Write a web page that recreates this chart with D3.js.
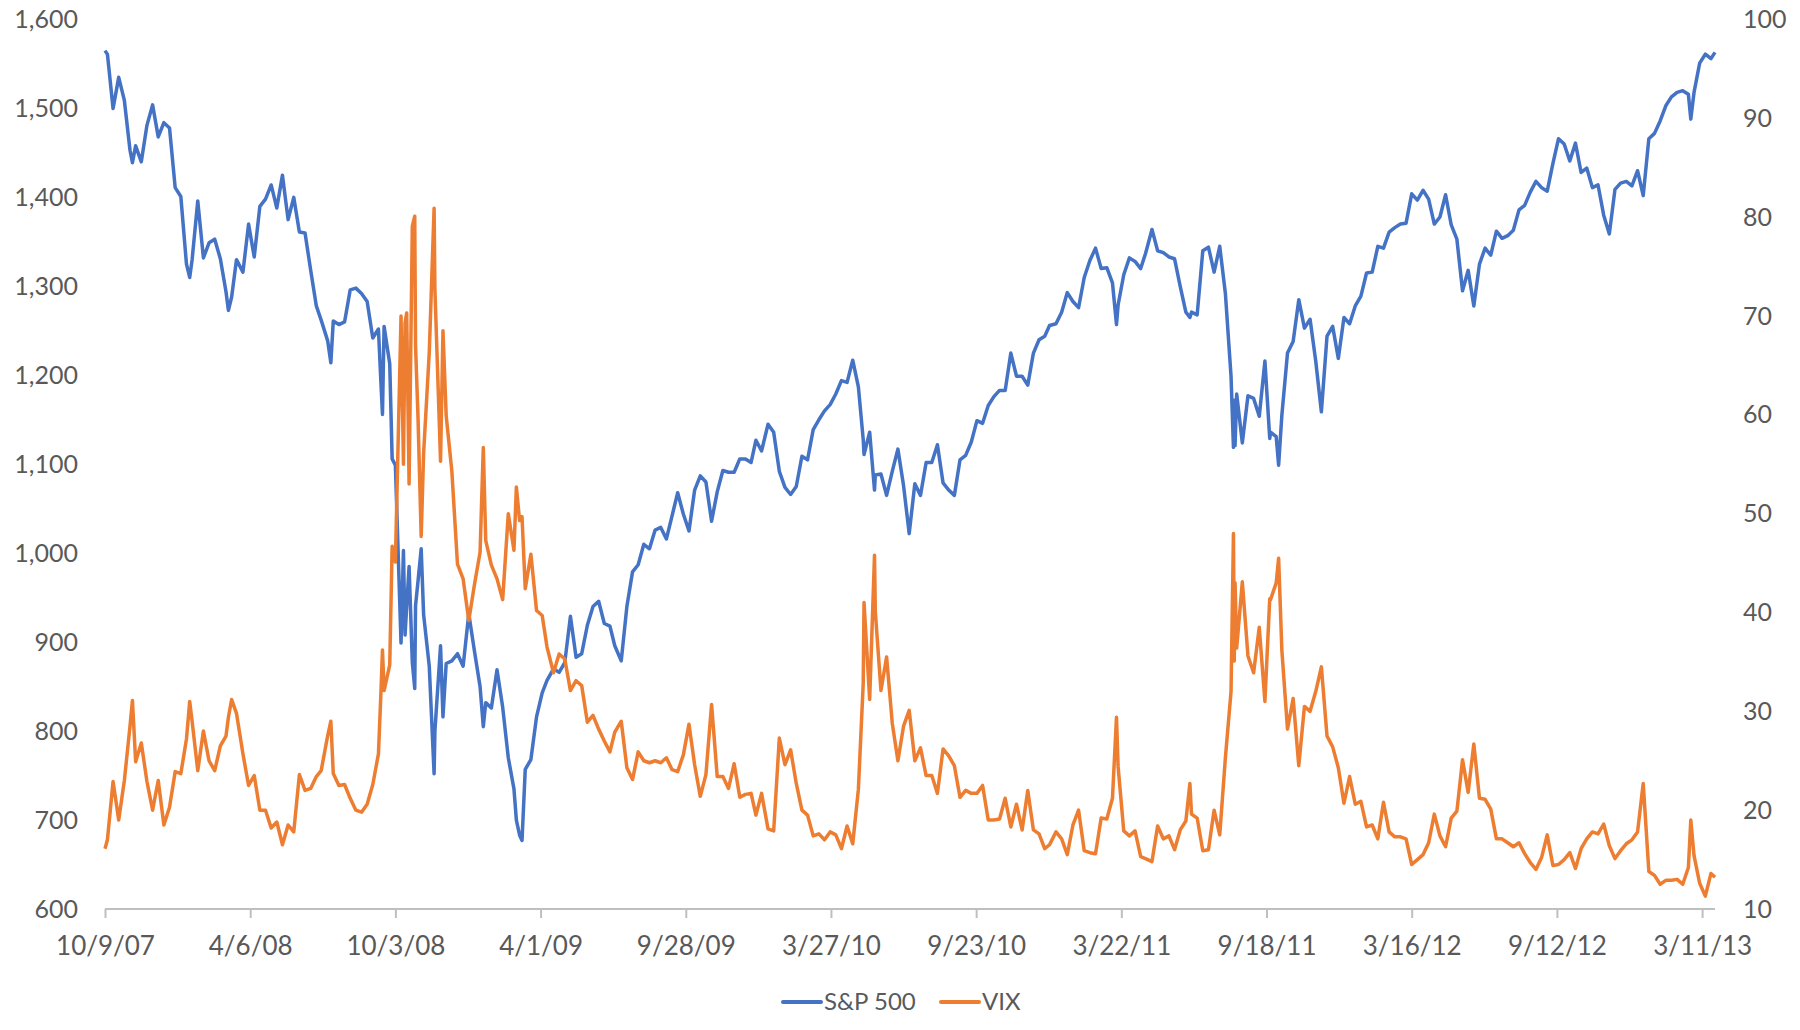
<!DOCTYPE html>
<html><head><meta charset="utf-8">
<script src="https://cdn.jsdelivr.net/npm/d3@7"></script>
<style>
html,body{margin:0;padding:0;background:#fff;}
svg text{font-family:Lato,"Noto Sans",sans-serif;fill:#595959;}
</style></head>
<body>
<svg id="chart" width="1800" height="1030"></svg>
<script>
// ---- DATA ----
const dates = ["07-10-09","07-10-12","07-10-19","07-10-26","07-11-02","07-11-09","07-11-12","07-11-16","07-11-23","07-11-30","07-12-07","07-12-14","07-12-21","07-12-28",
"08-01-04","08-01-11","08-01-18","08-01-22","08-01-25","08-02-01","08-02-08","08-02-15","08-02-22","08-02-29","08-03-07","08-03-10","08-03-14","08-03-20","08-03-28",
"08-04-04","08-04-11","08-04-18","08-04-25","08-05-02","08-05-09","08-05-16","08-05-23","08-05-30","08-06-06","08-06-13","08-06-20","08-06-27",
"08-07-03","08-07-11","08-07-15","08-07-18","08-07-25","08-08-01","08-08-08","08-08-15","08-08-22","08-08-29","08-09-05","08-09-12","08-09-15","08-09-17","08-09-19","08-09-26","08-09-29",
"08-10-03","08-10-10","08-10-13","08-10-15","08-10-17","08-10-20","08-10-24","08-10-27","08-10-28","08-10-31","08-11-04","08-11-07","08-11-14","08-11-20","08-11-21","08-11-28",
"08-12-01","08-12-05","08-12-12","08-12-19","08-12-26",
"09-01-02","09-01-09","09-01-16","09-01-20","09-01-23","09-01-30","09-02-06","09-02-13","09-02-20","09-02-27","09-03-02","09-03-06","09-03-09","09-03-13","09-03-20","09-03-27",
"09-04-03","09-04-09","09-04-17","09-04-24","09-05-01","09-05-08","09-05-15","09-05-22","09-05-29","09-06-05","09-06-12","09-06-19","09-06-26",
"09-07-02","09-07-10","09-07-17","09-07-24","09-07-31","09-08-07","09-08-14","09-08-21","09-08-28","09-09-04","09-09-11","09-09-18","09-09-25",
"09-10-02","09-10-09","09-10-16","09-10-23","09-10-30","09-11-06","09-11-13","09-11-20","09-11-27","09-12-04","09-12-11","09-12-18","09-12-24","09-12-31",
"10-01-08","10-01-15","10-01-22","10-01-29","10-02-05","10-02-12","10-02-19","10-02-26","10-03-05","10-03-12","10-03-19","10-03-26",
"10-04-02","10-04-09","10-04-16","10-04-23","10-04-30","10-05-06","10-05-07","10-05-14","10-05-20","10-05-21","10-05-28","10-06-04","10-06-11","10-06-18","10-06-25",
"10-07-02","10-07-09","10-07-16","10-07-23","10-07-30","10-08-06","10-08-13","10-08-20","10-08-27","10-09-03","10-09-10","10-09-17","10-09-24",
"10-10-01","10-10-08","10-10-15","10-10-22","10-10-29","10-11-05","10-11-12","10-11-19","10-11-26","10-12-03","10-12-10","10-12-17","10-12-23","10-12-31",
"11-01-07","11-01-14","11-01-21","11-01-28","11-02-04","11-02-11","11-02-18","11-02-25","11-03-04","11-03-11","11-03-16","11-03-18","11-03-25",
"11-04-01","11-04-08","11-04-15","11-04-21","11-04-29","11-05-06","11-05-13","11-05-20","11-05-27","11-06-03","11-06-10","11-06-15","11-06-17","11-06-24",
"11-07-01","11-07-08","11-07-15","11-07-22","11-07-29","11-08-05","11-08-08","11-08-09","11-08-10","11-08-12","11-08-19","11-08-26","11-09-02","11-09-09","11-09-16","11-09-22","11-09-23","11-09-30",
"11-10-03","11-10-07","11-10-14","11-10-21","11-10-28","11-11-04","11-11-11","11-11-18","11-11-25","11-12-02","11-12-09","11-12-16","11-12-23","11-12-30",
"12-01-06","12-01-13","12-01-20","12-01-27","12-02-03","12-02-10","12-02-17","12-02-24","12-03-02","12-03-09","12-03-16","12-03-23","12-03-30",
"12-04-06","12-04-13","12-04-20","12-04-27","12-05-04","12-05-11","12-05-18","12-05-25","12-06-01","12-06-08","12-06-15","12-06-22","12-06-29",
"12-07-06","12-07-13","12-07-20","12-07-27","12-08-03","12-08-10","12-08-17","12-08-24","12-08-31","12-09-07","12-09-14","12-09-21","12-09-28",
"12-10-05","12-10-12","12-10-19","12-10-26","12-11-02","12-11-09","12-11-16","12-11-23","12-11-30","12-12-07","12-12-14","12-12-21","12-12-28",
"13-01-04","13-01-11","13-01-18","13-01-25","13-02-01","13-02-08","13-02-15","13-02-22","13-02-25","13-03-01","13-03-08","13-03-15","13-03-22","13-03-27"];

const spx = [1565,1561,1500,1535,1509,1453,1439,1458,1440,1481,1504,1468,1484,1478,
1411,1401,1325,1310,1330,1396,1332,1349,1353,1331,1294,1273,1288,1330,1316,
1370,1333,1390,1398,1414,1388,1425,1375,1400,1361,1360,1318,1278,
1262,1239,1214,1261,1257,1260,1296,1298,1292,1283,1242,1252,1193,1156,1255,1213,1106,
1099,899,1003,908,940,985,877,848,941,968,1005,931,873,752,800,896,
816,876,879,887,873,
932,890,850,805,832,826,869,827,770,735,700,683,677,757,768,816,
843,857,870,866,877,929,883,887,919,940,946,921,918,
896,879,940,979,987,1010,1005,1026,1029,1016,1042,1068,1044,
1025,1071,1087,1080,1036,1069,1093,1091,1091,1106,1106,1102,1127,1115,
1145,1136,1092,1074,1066,1075,1109,1105,1139,1150,1160,1167,
1179,1194,1192,1217,1187,1128,1111,1136,1071,1088,1089,1065,1092,1117,1076,
1022,1078,1065,1102,1102,1122,1079,1071,1065,1105,1110,1125,1149,
1146,1166,1176,1183,1183,1225,1199,1199,1189,1225,1240,1244,1256,1258,
1271,1293,1283,1276,1310,1329,1343,1320,1321,1304,1257,1279,1313,
1332,1328,1320,1337,1364,1340,1338,1333,1331,1300,1271,1265,1271,1268,
1340,1344,1316,1345,1292,1199,1119,1172,1121,1179,1124,1177,1174,1154,1216,1129,1136,1131,
1099,1155,1225,1238,1285,1253,1263,1216,1159,1244,1255,1219,1265,1258,
1278,1289,1315,1316,1345,1343,1361,1366,1370,1371,1404,1397,1408,
1398,1370,1378,1403,1369,1353,1295,1318,1278,1325,1343,1335,1362,
1354,1357,1363,1386,1391,1406,1418,1411,1407,1438,1466,1460,1441,
1461,1428,1433,1411,1414,1380,1359,1409,1416,1418,1413,1430,1402,
1466,1472,1486,1503,1513,1518,1520,1516,1488,1518,1551,1561,1556,1563];

const vix = [16.1,17.0,22.9,19.0,23.0,28.5,31.1,24.9,26.8,22.9,20.0,23.0,18.5,20.3,
23.9,23.7,27.2,31.0,29.0,24.0,28.0,25.0,24.0,26.5,27.5,29.4,31.2,29.8,25.7,
22.5,23.5,20.0,20.0,18.2,18.8,16.5,18.5,17.8,23.6,22.0,22.2,23.4,
24.0,27.5,29.0,23.7,22.5,22.6,21.2,20.0,19.8,20.6,22.6,25.7,31.7,36.2,32.1,34.7,46.7,
45.1,70.0,55.0,69.3,70.3,53.0,79.1,80.1,67.0,59.9,47.7,56.1,66.3,80.9,72.7,55.3,
68.5,59.9,54.3,44.9,43.4,
39.2,42.8,46.1,56.7,47.3,44.8,43.4,41.3,50.0,46.3,52.7,49.3,49.7,42.4,45.9,40.2,
39.7,36.5,33.9,35.8,35.3,32.1,33.1,32.6,28.9,29.6,28.2,27.0,25.9,
27.9,29.0,24.3,23.1,25.9,25.0,24.8,25.0,24.8,25.3,24.1,23.9,25.6,
28.7,24.6,21.4,23.6,30.7,23.4,23.4,22.2,24.7,21.3,21.6,21.7,19.5,21.7,
18.1,17.9,27.3,24.6,26.1,22.7,20.0,19.5,17.4,17.6,17.0,17.8,
17.5,16.1,18.4,16.6,22.1,32.8,41.0,31.2,45.8,40.1,32.1,35.5,28.8,25.0,28.5,
30.1,25.0,26.3,23.5,23.5,21.7,26.2,25.5,24.5,21.3,22.0,21.7,21.7,
22.5,19.0,19.0,19.1,21.2,18.3,20.6,18.0,22.0,18.0,17.6,16.1,16.5,17.8,
17.1,15.5,18.5,20.0,15.9,15.7,15.6,19.2,19.1,21.2,29.4,24.4,17.9,
17.4,17.9,15.3,15.1,14.8,18.4,17.1,17.4,16.0,18.0,18.9,22.7,19.6,19.2,
15.9,16.0,20.0,17.5,25.3,32.0,48.0,35.1,43.0,36.4,43.1,35.6,33.9,38.5,31.0,41.4,41.3,43.0,
45.5,36.2,28.2,31.3,24.5,30.5,30.0,32.0,34.5,27.5,26.4,24.3,20.7,23.4,
20.6,20.9,18.3,18.5,17.1,20.8,17.8,17.3,17.3,17.1,14.5,15.0,15.5,
16.7,19.6,17.4,16.3,19.2,19.9,25.1,21.8,26.7,21.2,21.1,20.1,17.1,
17.1,16.7,16.3,16.7,15.6,14.7,14.0,15.2,17.5,14.4,14.5,15.0,15.7,
14.1,16.1,17.1,17.8,17.6,18.6,16.4,15.1,15.9,16.6,17.0,17.8,22.7,
13.8,13.4,12.5,12.9,12.9,13.0,12.5,14.2,19.0,15.4,12.6,11.3,13.6,13.2];

const seriesNames = ["S&P 500", "VIX"];
const leftTicks = [600,700,800,900,1000,1100,1200,1300,1400,1500,1600];
const rightTicks = [10,20,30,40,50,60,70,80,90,100];
const xTickLabels = ["10/9/07","4/6/08","10/3/08","4/1/09","9/28/09","3/27/10","9/23/10","3/22/11","9/18/11","3/16/12","9/12/12","3/11/13"];

// ---- CHART ----
const parse = d3.timeParse("%y-%m-%d");
const parseTick = d3.timeParse("%m/%d/%y");
const dt = dates.map(parse);
const colors = ["#4472C4", "#ED7D31"];
const svg = d3.select("#chart");
const L = 105, R = 1715, T = 19.5, B = 909;

const x = d3.scaleTime().domain([dt[0], dt[dt.length-1]]).range([L, R]);
const yL = d3.scaleLinear().domain([600,1600]).range([B, T]);
const yR = d3.scaleLinear().domain([10,100]).range([B, T]);

// left axis labels
svg.append("g").attr("transform", `translate(78,0)`)
  .call(d3.axisLeft(yL).tickValues(leftTicks).tickSize(0).tickPadding(0).tickFormat(d3.format(",")))
  .call(g => g.select(".domain").remove())
  .selectAll("text").attr("font-size", 25).attr("fill", "#595959").style("font-family","Lato");

// right axis labels
svg.append("g").attr("transform", `translate(1743,0)`)
  .call(d3.axisRight(yR).tickValues(rightTicks).tickSize(0).tickPadding(0))
  .call(g => g.select(".domain").remove())
  .selectAll("text").attr("font-size", 25).attr("fill", "#595959").style("font-family","Lato");

// x axis
const xTicks = xTickLabels.map(parseTick);
const xa = svg.append("g").attr("transform", `translate(0,${B})`)
  .call(d3.axisBottom(x).tickValues(xTicks).tickSize(9).tickPadding(19).tickFormat(d3.timeFormat("%-m/%-d/%y")));
xa.select(".domain").attr("stroke", "#BFBFBF").attr("stroke-width", 2).attr("d", `M${L},0H${R}`);
xa.selectAll(".tick line").attr("stroke", "#BFBFBF").attr("stroke-width", 2);
xa.selectAll("text").attr("font-size", 26).attr("fill", "#595959").style("font-family","Lato");

// lines
const lineL = d3.line().x((d,i) => x(dt[i])).y(d => yL(d));
const lineR = d3.line().x((d,i) => x(dt[i])).y(d => yR(d));
svg.append("path").datum(spx).attr("d", lineL).attr("fill","none").attr("stroke", colors[0]).attr("stroke-width", 3.5).attr("stroke-linejoin","round");
svg.append("path").datum(vix).attr("d", lineR).attr("fill","none").attr("stroke", colors[1]).attr("stroke-width", 3.5).attr("stroke-linejoin","round");

// legend
const leg = svg.append("g").attr("transform", "translate(783,1002)");
const legX = [0, 158];
seriesNames.forEach((n, i) => {
  const g = leg.append("g").attr("transform", `translate(${legX[i]},0)`);
  g.append("line").attr("x1", 0).attr("x2", 38).attr("y1", 0).attr("y2", 0)
    .attr("stroke", colors[i]).attr("stroke-width", 4).attr("stroke-linecap","round");
  g.append("text").attr("x", 41).attr("y", 0).attr("dy", "0.35em").attr("font-size", 24).text(n);
});
</script>
</body></html>
